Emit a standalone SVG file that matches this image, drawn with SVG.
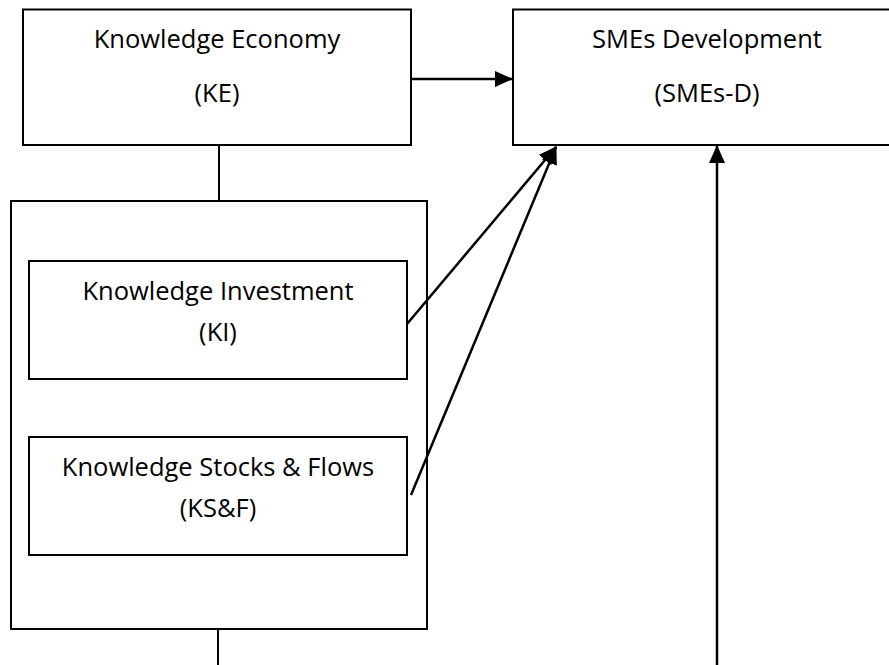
<svg xmlns="http://www.w3.org/2000/svg" width="889" height="665" viewBox="0 0 889 665">
<style>
.box{fill:#fff;stroke:#000;stroke-width:2}
.lbl{font-family:"Open Sans","Liberation Sans",sans-serif;font-size:25.5px;fill:#000;text-anchor:middle}
.ln{stroke:#000;stroke-width:2;fill:none}
.ar{stroke:#000;stroke-width:2.5;fill:none;marker-end:url(#ah)}
</style>
<defs>
<marker id="ah" markerUnits="userSpaceOnUse" markerWidth="18" markerHeight="16" viewBox="0 0 18 16" refX="17" refY="8" orient="auto">
<path d="M0,0 L18,8 L0,16 Z" fill="#000"/>
</marker>
</defs>
<g id="KE">
<rect class="box" x="23" y="9.5" width="388" height="135.5"/>
<text class="lbl" x="217" y="48">Knowledge Economy</text>
<text class="lbl" x="217" y="102">(KE)</text>
</g>
<g id="SMEsD">
<rect class="box" x="513" y="9.5" width="390" height="135.5"/>
<text class="lbl" x="707" y="48">SMEs Development</text>
<text class="lbl" x="707" y="102">(SMEs-D)</text>
</g>
<g id="Group">
<rect class="box" x="11" y="201" width="416" height="428"/>
</g>
<g id="KI">
<rect class="box" x="29" y="261" width="378" height="118"/>
<text class="lbl" x="218" y="300">Knowledge Investment</text>
<text class="lbl" x="218" y="341">(KI)</text>
</g>
<g id="KSF">
<rect class="box" x="29" y="437" width="378" height="118"/>
<text class="lbl" x="218" y="476">Knowledge Stocks &amp; Flows</text>
<text class="lbl" x="218" y="517">(KS&amp;F)</text>
</g>
<g id="connectors">
<line class="ln" x1="219" y1="145" x2="219" y2="201"/>
<line class="ln" x1="218" y1="629" x2="218" y2="665"/>
<line class="ar" x1="411" y1="79" x2="512" y2="79"/>
<line class="ar" x1="407" y1="324" x2="556" y2="147"/>
<line class="ar" x1="411" y1="495" x2="556" y2="147"/>
<line class="ar" x1="717" y1="665" x2="717" y2="146"/>
</g>
</svg>
